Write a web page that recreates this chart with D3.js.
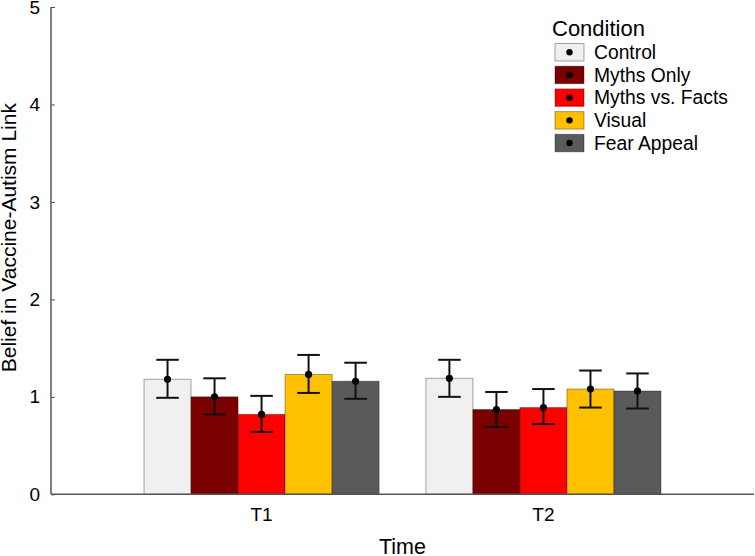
<!DOCTYPE html>
<html>
<head>
<meta charset="utf-8">
<script src="https://cdn.jsdelivr.net/npm/d3@7/dist/d3.min.js"></script>
<style>
  html, body { margin: 0; padding: 0; background: #fff; }
  svg { display: block; font-family: "Liberation Sans", Arial, sans-serif; }
</style>
</head>
<body>
<svg id="chart" width="755" height="556"></svg>
<script>
// ---- data ----
const times = ["T1", "T2"];
const conditions = ["Control", "Myths Only", "Myths vs. Facts", "Visual", "Fear Appeal"];
const colors = ["#f0f0f0", "#7a0000", "#ff0000", "#ffc000", "#5a5a5a"];
const meansT1 = [1.18, 1.00, 0.82, 1.23, 1.16];
const meansT2 = [1.19, 0.87, 0.89, 1.08, 1.06];
const upperT1 = [1.38, 1.19, 1.01, 1.43, 1.35];
const lowerT1 = [0.99, 0.82, 0.64, 1.04, 0.98];
const upperT2 = [1.38, 1.05, 1.08, 1.27, 1.24];
const lowerT2 = [1.00, 0.69, 0.72, 0.89, 0.88];
const yTicks = [0, 1, 2, 3, 4, 5];

(function () {
const rows = [];
times.forEach((t, ti) => {
  const m = ti === 0 ? meansT1 : meansT2;
  const u = ti === 0 ? upperT1 : upperT2;
  const l = ti === 0 ? lowerT1 : lowerT2;
  conditions.forEach((c, ci) => rows.push({time: t, cond: c, mean: m[ci], hi: u[ci], lo: l[ci], color: colors[ci]}));
});

// ---- layout ----
const svg = d3.select("#chart");
const mLeft = 51, mRight = 754, mTop = 7, mBottom = 494.3;

const y = d3.scaleLinear().domain([0, 5]).range([mBottom, mTop]);
const x = d3.scaleBand().domain(times).range([mLeft, mRight]).paddingInner(0.166).paddingOuter(0.33);
const xs = d3.scaleBand().domain(conditions).range([0, x.bandwidth()]);

// bars
const g = svg.append("g");
g.selectAll("rect.bar").data(rows).enter().append("rect")
  .attr("class", "bar")
  .attr("x", d => x(d.time) + xs(d.cond))
  .attr("y", d => y(d.mean))
  .attr("width", xs.bandwidth())
  .attr("height", d => y(0) - y(d.mean))
  .attr("fill", d => d.color)
  .attr("stroke", "rgba(0,0,0,0.35)")
  .attr("stroke-width", 1);

// error bars
const capW = xs.bandwidth() * 0.48;
rows.forEach(d => {
  const cx = x(d.time) + xs(d.cond) + xs.bandwidth() / 2;
  g.append("line").attr("x1", cx).attr("x2", cx).attr("y1", y(d.hi)).attr("y2", y(d.lo))
    .attr("stroke", "#111").attr("stroke-width", 2);
  [d.hi, d.lo].forEach(v => g.append("line")
    .attr("x1", cx - capW / 2).attr("x2", cx + capW / 2).attr("y1", y(v)).attr("y2", y(v))
    .attr("stroke", "#111").attr("stroke-width", 2));
  g.append("circle").attr("cx", cx).attr("cy", y(d.mean)).attr("r", 3.6).attr("fill", "#000");
});

// axes
const yAxis = d3.axisLeft(y).tickValues(yTicks).tickSize(-4).tickPadding(11).tickFormat(d3.format("d"));
const ya = svg.append("g").attr("transform", `translate(${mLeft},0)`).call(yAxis);
ya.select(".domain").attr("stroke", "#555").attr("stroke-width", 1.5).attr("d", `M0,${mTop}V${mBottom}`);
ya.selectAll(".tick line").attr("stroke", "#555");
ya.selectAll(".tick text").attr("font-size", 19).attr("fill", "#000").attr("font-family", "Liberation Sans, Arial, sans-serif");

const xAxis = d3.axisBottom(x).tickSize(0).tickPadding(13);
const xa = svg.append("g").attr("transform", `translate(0,${mBottom})`).call(xAxis);
xa.select(".domain").attr("stroke", "#555").attr("stroke-width", 1.5).attr("d", `M${mLeft},0H${mRight}`);
xa.selectAll(".tick text").attr("font-size", 19).attr("fill", "#000").attr("font-family", "Liberation Sans, Arial, sans-serif");

// axis titles
svg.append("text").attr("x", (mLeft + mRight) / 2).attr("y", 554).attr("text-anchor", "middle")
  .attr("font-size", 21.5).text("Time");
svg.append("text").attr("transform", `translate(16,${(mTop + mBottom) / 2 - 13}) rotate(-90)`)
  .attr("text-anchor", "middle").attr("font-size", 21).text("Belief in Vaccine-Autism Link");

// legend
const lg = svg.append("g");
lg.append("text").attr("x", 552).attr("y", 36).attr("font-size", 22).text("Condition");
conditions.forEach((c, i) => {
  const yy = 43.5 + i * 22.7;
  lg.append("rect").attr("x", 555).attr("y", yy).attr("width", 29).attr("height", 17.5)
    .attr("fill", colors[i]).attr("stroke", "rgba(0,0,0,0.35)").attr("stroke-width", 1);
  lg.append("circle").attr("cx", 569.5).attr("cy", yy + 8.75).attr("r", 3.2).attr("fill", "#000");
  lg.append("text").attr("x", 594).attr("y", yy + 15.5).attr("font-size", 19.3).text(c);
});
})();
</script>
</body>
</html>
